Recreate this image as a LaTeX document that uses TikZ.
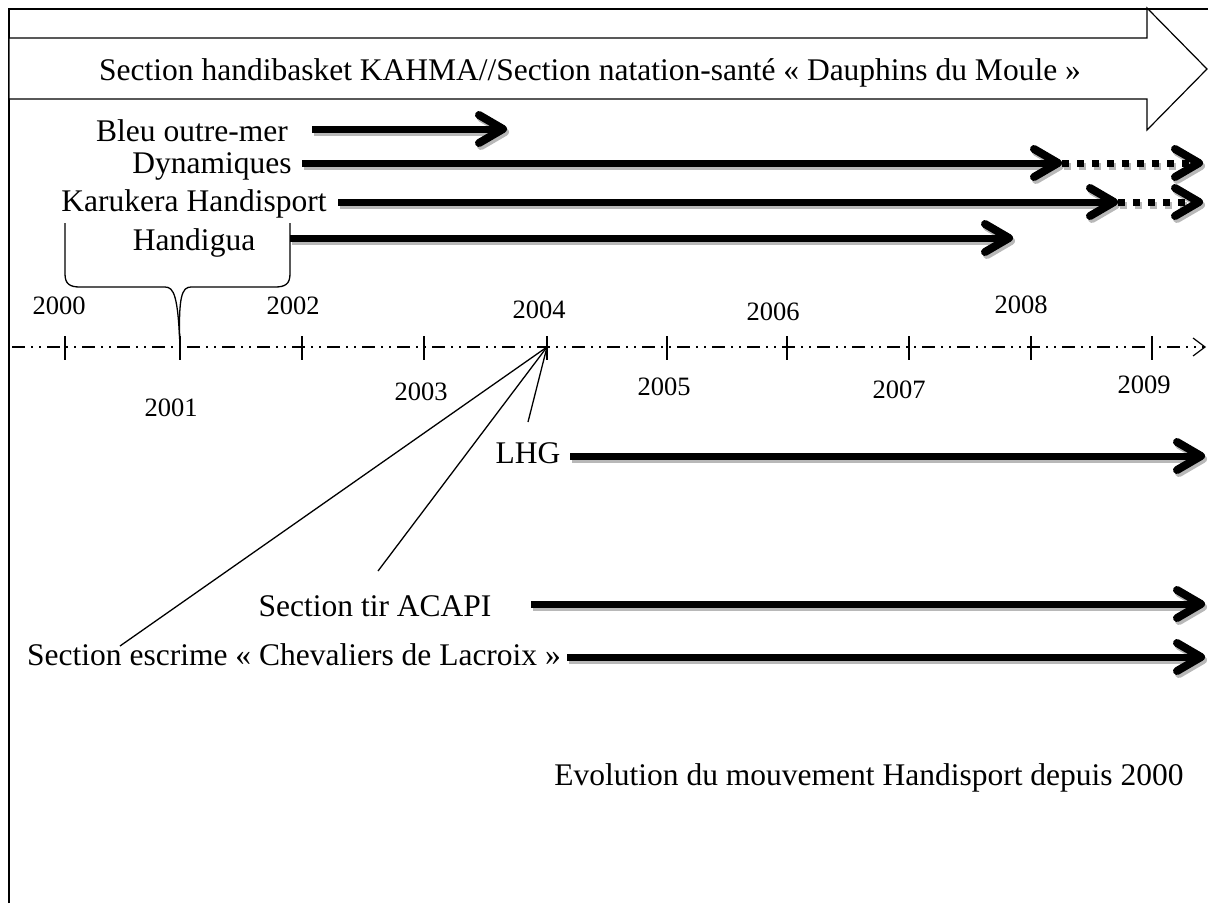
\documentclass[tikz,border=0pt]{standalone}
\usepackage{fontspec}
\setmainfont{Liberation Serif}
\usetikzlibrary{arrows.meta}
\begin{document}
\begin{tikzpicture}[x=1pt,y=-1pt,
  lbl/.style={font=\fontsize{31.5}{36}\selectfont, inner sep=0pt, anchor=base},
  yr/.style={font=\fontsize{26.5}{30}\selectfont, inner sep=0pt},
  chev/.style={-{Straight Barb[length=24pt,width=28pt,line width=8pt,round]}},
  fat/.style={line width=7pt, chev},
  dots/.style={line width=7pt, dash pattern=on 7pt off 8pt, chev},
  shd/.style={draw=black!28, transform canvas={shift={(2pt,-3pt)}}},
  axisline/.style={line width=1.2pt, dash pattern=on 13pt off 6pt on 2pt off 6pt on 2pt off 6pt,
     -{Straight Barb[length=12pt,width=18pt,line width=1.2pt]}},
  tickline/.style={line width=1.5pt},
  leader/.style={line width=1.3pt},
  bigarrow/.style={line width=1.2pt, fill=white}
]
\useasboundingbox (0,0) rectangle (1208,903);
% frame
\draw[line width=2pt] (9,903) -- (9,9) -- (1208,9);
% big top arrow
\draw[bigarrow] (9,38) -- (1147,38) -- (1147,8) -- (1207,69) -- (1147,130) -- (1147,99) -- (9,99) -- cycle;
\node[lbl] (title) at (590,80) {Section handibasket KAHMA//Section natation-santé « Dauphins du Moule »};

% labels
\node[lbl] (bleu) at (192,141) {Bleu outre-mer};
\node[lbl] (dyn) at (212,173) {Dynamiques};
\node[lbl] (karu) at (194,211) {Karukera Handisport};
\node[lbl] (handi) at (194,250) {Handigua};
\node[lbl] (lhg) at (528,463) {LHG};
\node[lbl] (tir) at (375,616) {Section tir ACAPI};
\node[lbl] (escr) at (294,665) {Section escrime « Chevaliers de Lacroix »};
\node[lbl] (evo) at (869,785) {Evolution du mouvement Handisport depuis 2000};

% arrow coordinates
\coordinate (bleuS) at (312,129); \coordinate (bleuE) at (507,129);
\coordinate (dynS) at (302,163); \coordinate (dynM) at (1062,163); \coordinate (dynE) at (1203,163);
\coordinate (karuS) at (338,202); \coordinate (karuM) at (1118,202); \coordinate (karuE) at (1203,202);
\coordinate (handiS) at (290,238); \coordinate (handiE) at (1013,238);
\coordinate (lhgS) at (570,456); \coordinate (lhgE) at (1205,456);
\coordinate (tirS) at (531,604); \coordinate (tirE) at (1205,604);
\coordinate (escrS) at (567,657); \coordinate (escrE) at (1205,657);

% shadows
\foreach \a/\b in {bleuS/bleuE,dynS/dynM,karuS/karuM,handiS/handiE,lhgS/lhgE,tirS/tirE,escrS/escrE}
  \draw[fat,shd] (\a) -- (\b);
\draw[dots,shd] (dynM) -- (dynE);
\draw[dots,shd] (karuM) -- (karuE);
% arrows
\foreach \a/\b in {bleuS/bleuE,dynS/dynM,karuS/karuM,handiS/handiE,lhgS/lhgE,tirS/tirE,escrS/escrE}
  \draw[fat] (\a) -- (\b);
\draw[dots] (dynM) -- (dynE);
\draw[dots] (karuM) -- (karuE);

% axis
\coordinate (axL) at (12,347); \coordinate (axR) at (1206,347);
\draw[axisline] (axL) -- (axR);
\foreach \yrr/\xx in {2000/65,2001/180,2002/302,2003/424,2004/547,2005/667,2006/787,2007/909,2008/1031,2009/1152}{
  \coordinate (t\yrr) at (\xx,347);
  \draw[tickline] (\xx,336) -- (\xx,360);
}
\node[yr] (y2000) at (59,306) {2000};
\node[yr] (y2001) at (171,408) {2001};
\node[yr] (y2002) at (293,306) {2002};
\node[yr] (y2003) at (421,392) {2003};
\node[yr] (y2004) at (539,310) {2004};
\node[yr] (y2005) at (664,387) {2005};
\node[yr] (y2006) at (773,312) {2006};
\node[yr] (y2007) at (899,390) {2007};
\node[yr] (y2008) at (1021,305) {2008};
\node[yr] (y2009) at (1144,385) {2009};

% leaders from 2004
\coordinate (lhgL) at (528,422);
\coordinate (tirL) at (378,571);
\coordinate (escrL) at (120,646);
\draw[leader] (t2004) -- (lhgL);
\draw[leader] (t2004) -- (tirL);
\draw[leader] (t2004) -- (escrL);

% brace to 2001
\draw[leader] (65,223) -- (65,274) .. controls (65,284) and (70,287) .. (80,287) -- (165,287)
  .. controls (174,287) and (178,296) .. (t2001);
\draw[leader] (290,223) -- (290,274) .. controls (290,284) and (285,287) .. (275,287) -- (191,287)
  .. controls (182,287) and (178,296) .. (t2001);
\end{tikzpicture}
\end{document}
